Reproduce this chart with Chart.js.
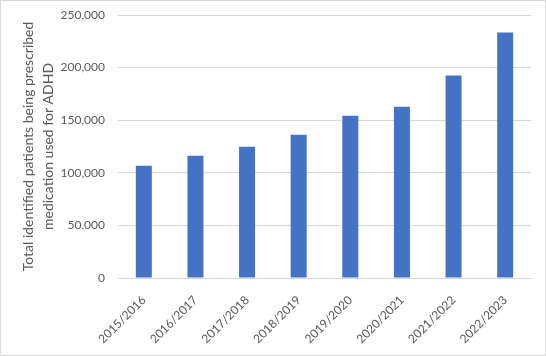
<!DOCTYPE html>
<html><head><meta charset="utf-8">
<script src="https://cdn.jsdelivr.net/npm/chart.js@4/dist/chart.umd.min.js"></script>
<style>html,body{margin:0;padding:0;background:#fff;}#wrap{width:546px;height:356px;position:relative;}</style>
</head><body><div id="wrap"><canvas id="c" width="546" height="356"></canvas></div>
<script>
const categories = ["2015/2016","2016/2017","2017/2018","2018/2019","2019/2020","2020/2021","2021/2022","2022/2023"];
const patients = [106700,116200,124800,136200,154300,162900,192400,233300];
const yTitle = ["Total identified patients being prescribed","medication used for ADHD"];

const borderPlugin = {id:'border', afterDraw(chart){const c=chart.ctx;c.save();c.strokeStyle='#d9d9d9';c.lineWidth=1;c.strokeRect(0.5,0.5,chart.width-1,chart.height-1);c.restore();}};
const font = {family:'Lato, "Liberation Sans", sans-serif', size:12};
new Chart(document.getElementById('c'), {
  type:'bar',
  data:{labels:categories, datasets:[{data:patients, backgroundColor:'#4472c4', categoryPercentage:1, barPercentage:0.31}]},
  options:{
    responsive:false, animation:false, devicePixelRatio:1,
    layout:{padding:{left:18,right:15,top:15,bottom:4}},
    plugins:{legend:{display:false}, tooltip:{enabled:false}},
    scales:{
      x:{grid:{display:false}, border:{color:'#d9d9d9'},
         ticks:{color:'#595959', font:font, minRotation:45, maxRotation:45, padding:7},
         afterFit(s){s.height=356-278-4; s.paddingLeft=0; s.paddingRight=0;}},
      y:{min:0,max:250000, grid:{color:'#d9d9d9', drawTicks:false}, border:{display:false},
         ticks:{stepSize:50000, color:'#595959', font:font, padding:13, callback:v=>v.toLocaleString('en-US')},
         title:{display:true, text:yTitle, color:'#595959', font:{family:font.family,size:14,lineHeight:1.45}, padding:{top:0,bottom:4}},
         afterFit(s){s.width=118-18; s.paddingTop=0; s.paddingBottom=0;}}
    }
  },
  plugins:[borderPlugin]
});
</script></body></html>
